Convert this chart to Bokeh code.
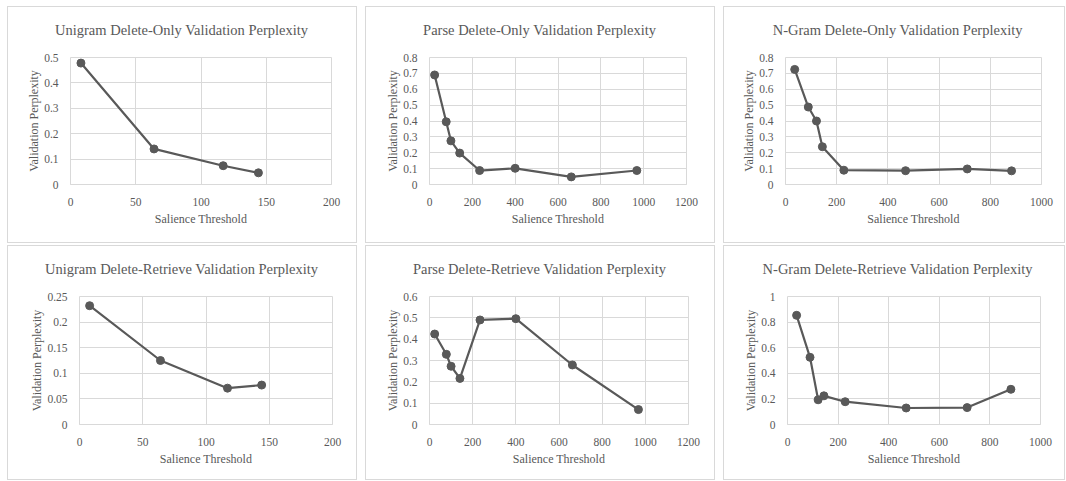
from bokeh.plotting import figure
from bokeh.models import Range1d, FixedTicker, Title
from bokeh.layouts import row, column
from bokeh.embed import file_html
from bokeh.resources import INLINE

# ---------------- data ----------------
titles = [
    "Unigram Delete-Only Validation Perplexity",
    "Parse Delete-Only Validation Perplexity",
    "N-Gram Delete-Only Validation Perplexity",
    "Unigram Delete-Retrieve Validation Perplexity",
    "Parse Delete-Retrieve Validation Perplexity",
    "N-Gram Delete-Retrieve Validation Perplexity",
]
x_label = "Salience Threshold"
y_label = "Validation Perplexity"

unigram_x = [8, 64, 117, 144]
unigram_delete_only = [0.478, 0.14, 0.074, 0.046]
unigram_delete_retrieve = [0.232, 0.125, 0.071, 0.077]

parse_x = [24, 78, 100, 141, 234, 400, 662, 968]
parse_delete_only = [0.69, 0.395, 0.275, 0.198, 0.088, 0.102, 0.048, 0.088]
parse_delete_retrieve = [0.424, 0.329, 0.273, 0.216, 0.49, 0.496, 0.279, 0.07]

ngram_x = [36, 89, 121, 144, 228, 469, 710, 883]
ngram_delete_only = [0.725, 0.488, 0.4, 0.238, 0.09, 0.087, 0.098, 0.086]
ngram_delete_retrieve = [0.853, 0.525, 0.193, 0.224, 0.178, 0.129, 0.132, 0.275]

unigram_x_ticks = [0, 50, 100, 150, 200]
parse_x_ticks = [0, 200, 400, 600, 800, 1000, 1200]
ngram_x_ticks = [0, 200, 400, 600, 800, 1000]

y_ticks_05 = [0, 0.1, 0.2, 0.3, 0.4, 0.5]
y_labels_05 = ["0", "0.1", "0.2", "0.3", "0.4", "0.5"]
y_ticks_08 = [0, 0.1, 0.2, 0.3, 0.4, 0.5, 0.6, 0.7, 0.8]
y_labels_08 = ["0", "0.1", "0.2", "0.3", "0.4", "0.5", "0.6", "0.7", "0.8"]
y_ticks_025 = [0, 0.05, 0.1, 0.15, 0.2, 0.25]
y_labels_025 = ["0", "0.05", "0.1", "0.15", "0.2", "0.25"]
y_ticks_06 = [0, 0.1, 0.2, 0.3, 0.4, 0.5, 0.6]
y_labels_06 = ["0", "0.1", "0.2", "0.3", "0.4", "0.5", "0.6"]
y_ticks_1 = [0, 0.2, 0.4, 0.6, 0.8, 1]
y_labels_1 = ["0", "0.2", "0.4", "0.6", "0.8", "1"]

FONT = "Liberation Serif"
TXT = "#595959"
GRID = "#d9d9d9"
LINE = "#595959"
TITLE_PX = 14.5

# Times / Liberation Serif advance widths (1/1000 em) for estimating title width
_W = {" ": 250, "-": 333, "U": 722, "D": 722, "O": 722, "V": 722, "P": 556,
      "N": 722, "G": 722, "R": 667, "a": 444, "c": 444, "d": 500, "e": 444,
      "g": 500, "h": 500, "i": 278, "l": 278, "m": 778, "n": 500, "o": 500,
      "p": 500, "r": 333, "s": 389, "t": 278, "v": 500, "x": 500, "y": 500}


def text_width(s, px):
    return sum(_W.get(c, 500) for c in s) / 1000.0 * px


def make(title, xs, ys, xticks, yticks, ylabels, width, height,
         left, right, top, bottom):
    p = figure(width=width, height=height, output_backend="svg",
               toolbar_location=None, title=None,
               x_range=Range1d(xticks[0], xticks[-1]),
               y_range=Range1d(yticks[0], yticks[-1]),
               min_border_left=left, min_border_right=right,
               min_border_top=top, min_border_bottom=bottom)
    p.styles = {"background-color": "white",
                "box-shadow": "inset 0 0 0 1px " + GRID}
    p.background_fill_color = "white"
    p.border_fill_color = None
    p.outline_line_color = GRID

    # small spacer between the frame and the title
    p.add_layout(Title(text=" ", text_font_size="1px", standoff=3), "above")
    p.add_layout(Title(text=title, align="left",
                       offset=175 - left - text_width(title, TITLE_PX) / 2,
                       text_font=FONT, text_font_size=f"{TITLE_PX}px",
                       text_font_style="normal", text_color=TXT,
                       standoff=27), "above")

    p.xaxis.ticker = FixedTicker(ticks=xticks)
    p.yaxis.ticker = FixedTicker(ticks=yticks)
    p.yaxis.major_label_overrides = {t: l for t, l in zip(yticks, ylabels)}
    p.xaxis.major_label_overrides = {t: str(t) for t in xticks}

    for ax in (p.xaxis, p.yaxis):
        ax.major_tick_line_color = None
        ax.minor_tick_line_color = None
        ax.major_tick_out = 0
        ax.major_tick_in = 0
        ax.major_label_text_font = FONT
        ax.major_label_text_font_size = "11.5px"
        ax.major_label_text_color = TXT
        ax.axis_label_text_font = FONT
        ax.axis_label_text_font_size = "12px"
        ax.axis_label_text_font_style = "normal"
        ax.axis_label_text_color = TXT
    p.xaxis.axis_line_color = GRID
    p.yaxis.axis_line_color = None
    p.xaxis.axis_label = x_label
    p.yaxis.axis_label = y_label
    p.xaxis.major_label_standoff = 13
    p.xaxis.axis_label_standoff = 3
    p.yaxis.major_label_standoff = 12
    p.yaxis.axis_label_standoff = 0

    p.xgrid.grid_line_color = GRID
    p.ygrid.grid_line_color = GRID
    p.xgrid.ticker = FixedTicker(ticks=xticks)
    p.ygrid.ticker = FixedTicker(ticks=yticks)

    p.line(xs, ys, line_color=LINE, line_width=2.2)
    p.scatter(xs, ys, size=8, fill_color=LINE, line_color=LINE)
    return p


H1, H2 = 237, 235
p1 = make(titles[0], unigram_x, unigram_delete_only, unigram_x_ticks,
          y_ticks_05, y_labels_05, 350, H1, 63, 26, 51, 59)
p2 = make(titles[1], parse_x, parse_delete_only, parse_x_ticks,
          y_ticks_08, y_labels_08, 350, H1, 64, 29, 51, 59)
p3 = make(titles[2], ngram_x, ngram_delete_only, ngram_x_ticks,
          y_ticks_08, y_labels_08, 342, H1, 62, 24, 51, 59)
p4 = make(titles[3], unigram_x, unigram_delete_retrieve, unigram_x_ticks,
          y_ticks_025, y_labels_025, 350, H2, 72, 25, 50, 56)
p5 = make(titles[4], parse_x, parse_delete_retrieve, parse_x_ticks,
          y_ticks_06, y_labels_06, 350, H2, 64, 27, 50, 54)
p6 = make(titles[5], ngram_x, ngram_delete_retrieve, ngram_x_ticks,
          y_ticks_1, y_labels_1, 342, H2, 64, 25, 50, 56)

layout = column(row(p1, p2, p3, spacing=8), row(p4, p5, p6, spacing=8),
                spacing=2, margin=(6, 0, 0, 7))

open("out.html", "w").write(file_html(layout, INLINE))
